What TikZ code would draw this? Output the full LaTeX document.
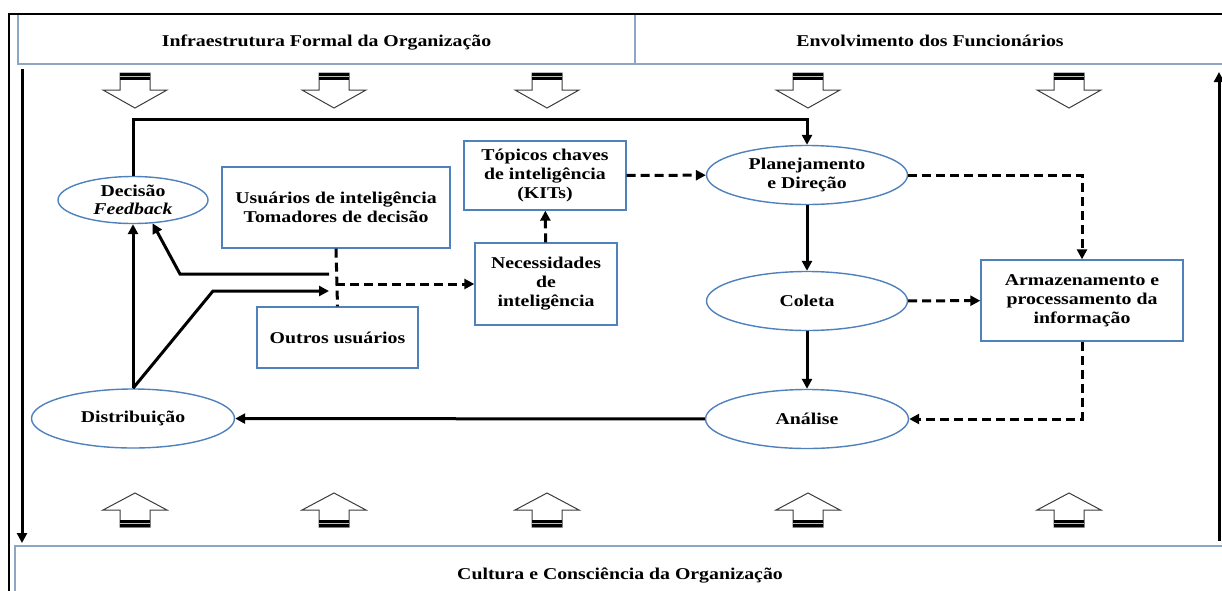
\documentclass[tikz,border=0pt]{standalone}
\usepackage{fontspec}
\setmainfont{Liberation Serif}[FakeStretch=1.2]
\usepackage{xcolor}
\usepackage{tikz}
\usetikzlibrary{shapes.geometric, arrows.meta, positioning, calc}
\definecolor{nodeborder}{RGB}{79,129,189}
\definecolor{bandborder}{RGB}{140,166,196}
\definecolor{hollowline}{RGB}{60,60,60}
\tikzset{
    box/.style={rectangle, draw=nodeborder, line width=1.4pt, fill=white, align=center, inner sep=0pt, font=\fontsize{16.5}{19}\selectfont\bfseries},
    oval/.style={ellipse, draw=nodeborder, line width=1.4pt, fill=white, align=center, inner sep=0pt, font=\fontsize{16.5}{18.5}\selectfont\bfseries},
    band/.style={rectangle, draw=bandborder, line width=1.5pt, inner sep=0pt, text height=14pt, text depth=0pt, font=\fontsize{16.5}{18}\selectfont\bfseries},
    arrow/.style={line width=3pt, ->, >={Triangle[length=10pt, width=10pt]}},
    dasharrow/.style={arrow, dash pattern=on 9pt off 5pt},
    hollow/.style={draw=hollowline, line width=1pt, fill=white}
}

\begin{document}
\begin{tikzpicture}[x=1pt, y=-1pt]
    \useasboundingbox (0,0) rectangle (1222,590);

    % Bands
    \node (infra) [band, minimum width=617, minimum height=50] at (326.5,39) {Infraestrutura Formal da Organização};
    \node (envolv) [band, minimum width=590, minimum height=50] at (930,39) {Envolvimento dos Funcionários};
    \node (cultura) [band, minimum width=1210, minimum height=52] at (620,572) {Cultura e Consciência da Organização};
    \draw [line width=1.5pt] (9,600) -- (9,14) -- (1230,14);

    % Side arrows
    \coordinate (lefttop) at (22,69);
    \coordinate (leftbot) at (22,543);
    \coordinate (rightbot) at (1219,541);
    \coordinate (righttop) at (1219,72);
    \draw [arrow] (lefttop) -- (leftbot);
    \draw [arrow] (rightbot) -- (righttop);

    % Block arrows
    \foreach \x in {135,334,547,808,1069} {
        \draw [hollow] (\x-15,73) -- (\x+15,73) -- (\x+15,90) -- (\x+32,90) -- (\x,108) -- (\x-32,90) -- (\x-15,90) -- cycle;
        \fill (\x-15,73) rectangle (\x+15,80);
        \draw [gray!50, line width=1pt] (\x-15,76.5) -- (\x+15,76.5);
        \draw [hollow] (\x-15,527) -- (\x+15,527) -- (\x+15,510) -- (\x+32,510) -- (\x,493) -- (\x-32,510) -- (\x-15,510) -- cycle;
        \fill (\x-15,520) rectangle (\x+15,527);
        \draw [gray!50, line width=1pt] (\x-15,523.5) -- (\x+15,523.5);
    }

    % Nodes
    \node (decisao) [oval, minimum width=150, minimum height=47] at (133,200) {Decisão\\\textit{Feedback}};
    \node (distribuicao) [oval, minimum width=203, minimum height=59] at (133,418.5) {Distribuição};
    \node (usuarios) [box, minimum width=228, minimum height=81] at (336,207.5) {Usuários de inteligência\\Tomadores de decisão};
    \node (outros) [box, minimum width=161, minimum height=61] at (337.5,337.5) {Outros usuários};
    \node (necessidades) [box, minimum width=142, minimum height=82] at (546,284) {Necessidades\\de\\inteligência};
    \node (topicos) [box, minimum width=162, minimum height=69] at (545,175.5) {Tópicos chaves\\de inteligência\\(KITs)};
    \node (planejamento) [oval, minimum width=201, minimum height=59] at (807,175) {Planejamento\\e Direção};
    \node (coleta) [oval, minimum width=201, minimum height=59] at (807,301) {Coleta};
    \node (analise) [oval, minimum width=203, minimum height=59] at (807,419) {Análise};
    \node (armazenamento) [box, minimum width=202, minimum height=81] at (1082,300.5) {Armazenamento e\\processamento da\\informação};

    % Junction points
    \coordinate (looptop) at (0,119);
    \coordinate (bendin) at (213,291);
    \coordinate (jin) at (329,291);
    \coordinate (jout) at (329,274);
    \coordinate (bendout) at (180,274);

    % Arrows
    \draw [arrow] (decisao.north) -- (decisao.north |- looptop) -| (planejamento.north);
    \draw [arrow] (planejamento) -- (coleta);
    \draw [arrow] (coleta) -- (analise);
    \draw [arrow] (analise) -- (distribuicao);
    \draw [arrow] (distribuicao) -- (decisao);
    \draw [arrow] (distribuicao.north) -- (bendin) -- (jin);
    \draw [arrow] (jout) -- (bendout) -- (decisao.-50);
    \draw [dasharrow, -] (usuarios.south) -- (outros.north);
    \draw [dasharrow] (usuarios.south |- necessidades.west) -- (necessidades.west);
    \draw [dasharrow] (necessidades) -- (topicos);
    \draw [dasharrow] (topicos) -- (planejamento);
    \draw [dasharrow] (planejamento.east) -| (armazenamento.north);
    \draw [dasharrow] (coleta) -- (armazenamento);
    \draw [dasharrow] (armazenamento.south) |- (analise.east);
\end{tikzpicture}
\end{document}
